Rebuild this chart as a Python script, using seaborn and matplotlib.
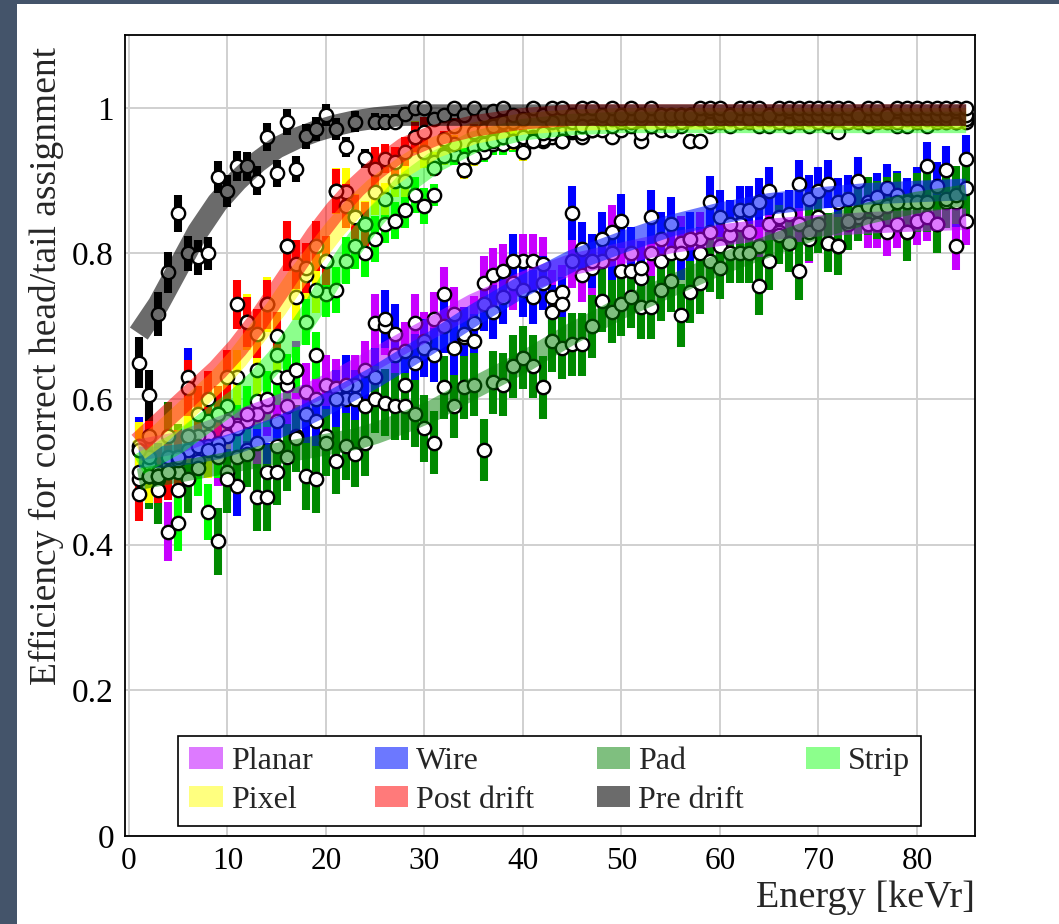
import numpy as np
import pandas as pd
import matplotlib
matplotlib.use("Agg")
import matplotlib.pyplot as plt
import seaborn as sns
from matplotlib.patches import Patch, Rectangle
from matplotlib.ticker import MultipleLocator, FuncFormatter

# ---------------- data ----------------
energy = list(range(1, 86))

planar = [0.53,0.51,0.49,0.418,0.50,0.53,0.54,0.55,0.52,0.55,
          0.565,0.53,0.54,0.59,0.57,0.59,0.64,0.61,0.60,0.62,
          0.615,0.60,0.62,0.64,0.705,0.70,0.66,0.666,0.705,0.68,
          0.71,0.745,0.717,0.685,0.705,0.76,0.77,0.776,0.76,0.79,
          0.79,0.785,0.74,0.747,0.79,0.77,0.78,0.79,0.83,0.776,
          0.776,0.766,0.80,0.79,0.80,0.815,0.82,0.82,0.83,0.81,
          0.825,0.84,0.83,0.81,0.84,0.83,0.815,0.84,0.82,0.85,
          0.815,0.81,0.84,0.85,0.84,0.84,0.83,0.84,0.83,0.845,
          0.85,0.84,0.87,0.81,0.845]
wire = [0.535,0.52,0.50,0.51,0.475,0.63,0.55,0.535,0.54,0.50,
        0.48,0.57,0.58,0.50,0.535,0.62,0.55,0.58,0.57,0.55,
        0.60,0.62,0.60,0.59,0.63,0.71,0.69,0.62,0.65,0.67,
        0.66,0.70,0.67,0.69,0.68,0.73,0.72,0.74,0.79,0.75,
        0.74,0.76,0.72,0.73,0.855,0.806,0.79,0.82,0.80,0.845,
        0.80,0.78,0.85,0.82,0.84,0.80,0.82,0.80,0.87,0.85,
        0.84,0.86,0.86,0.87,0.886,0.85,0.854,0.895,0.875,0.886,
        0.895,0.87,0.875,0.90,0.87,0.877,0.89,0.88,0.87,0.886,
        0.92,0.893,0.915,0.87,0.93]
pad = [0.49,0.495,0.475,0.55,0.52,0.49,0.515,0.57,0.405,0.49,
       0.52,0.525,0.465,0.465,0.50,0.52,0.546,0.494,0.49,0.54,
       0.515,0.535,0.525,0.54,0.60,0.595,0.59,0.59,0.58,0.56,
       0.54,0.616,0.59,0.616,0.62,0.53,0.623,0.62,0.645,0.657,
       0.645,0.616,0.68,0.67,0.675,0.675,0.70,0.735,0.72,0.73,
       0.74,0.726,0.726,0.75,0.762,0.715,0.747,0.76,0.79,0.78,
       0.80,0.80,0.80,0.755,0.79,0.826,0.815,0.776,0.83,0.84,
       0.815,0.81,0.845,0.857,0.865,0.86,0.865,0.87,0.83,0.87,
       0.87,0.84,0.875,0.88,0.89]
strip = [0.50,0.495,0.495,0.52,0.43,0.55,0.505,0.445,0.53,0.59,
         0.56,0.58,0.597,0.60,0.63,0.63,0.64,0.706,0.66,0.745,
         0.75,0.79,0.81,0.80,0.82,0.84,0.845,0.86,0.88,0.865,
         0.88,0.937,0.937,0.93,0.946,0.94,0.95,0.95,0.955,0.945,
         0.96,0.955,0.96,0.965,0.967,0.96,0.97,0.975,0.96,0.97,
         0.975,0.955,0.975,0.97,0.97,0.975,0.955,0.955,0.975,0.98,
         0.975,0.98,0.98,0.975,0.975,0.98,0.975,0.98,0.975,0.98,
         0.975,0.967,0.98,0.98,0.975,0.98,0.98,0.975,0.975,0.98,
         0.975,0.98,0.98,0.98,0.98]
pixel = [0.53,0.495,0.495,0.50,0.517,0.55,0.535,0.53,0.58,0.57,
         0.63,0.706,0.64,0.73,0.66,0.81,0.74,0.77,0.75,0.79,
         0.886,0.885,0.85,0.84,0.885,0.875,0.90,0.90,0.96,0.94,
         0.926,0.934,0.95,0.915,0.933,0.95,0.955,0.96,0.955,0.94,
         0.957,0.957,0.965,0.955,0.97,0.965,0.975,0.97,0.975,0.98,
         0.98,0.965,0.975,0.98,0.97,0.98,0.985,0.985,0.98,0.985,
         0.985,0.98,0.985,0.985,0.985,0.98,0.985,0.985,0.985,0.98,
         0.985,0.985,0.98,0.985,0.985,0.985,0.985,0.98,0.985,0.985,
         0.985,0.985,0.985,0.98,0.985]
post_drift = [0.47,0.55,0.495,0.50,0.52,0.615,0.58,0.60,0.58,0.63,
              0.73,0.706,0.69,0.73,0.686,0.81,0.785,0.78,0.81,0.79,
              0.886,0.865,0.85,0.84,0.916,0.93,0.926,0.94,0.96,0.967,
              0.917,0.957,0.975,0.915,0.967,0.97,0.975,0.98,0.98,0.96,
              0.955,0.965,0.98,0.955,0.98,0.975,0.97,0.985,0.985,0.985,
              0.99,0.985,0.99,0.99,0.985,0.99,0.99,0.99,0.995,0.99,
              0.99,0.99,0.985,0.99,0.99,0.99,0.995,0.99,0.99,0.99,
              0.99,0.985,0.99,0.99,0.99,0.99,0.99,0.995,0.99,0.99,
              0.99,0.99,0.99,0.995,0.99]
pre_drift = [0.65,0.605,0.717,0.774,0.855,0.80,0.795,0.80,0.905,0.886,
             0.92,0.92,0.90,0.96,0.91,0.98,0.916,0.961,0.971,0.99,
             0.971,0.946,0.981,0.931,0.981,0.981,0.981,0.992,1.0,1.0,
             0.985,0.99,1.0,0.99,1.0,0.99,0.995,1.0,0.99,0.985,
             1.0,0.99,1.0,1.0,0.99,1.0,1.0,0.99,1.0,0.99,
             1.0,0.99,1.0,0.99,0.99,0.99,0.99,1.0,1.0,1.0,
             0.99,1.0,1.0,1.0,0.99,1.0,1.0,1.0,1.0,1.0,
             1.0,1.0,1.0,0.99,1.0,1.0,0.99,1.0,1.0,1.0,
             1.0,1.0,1.0,1.0,1.0]

# half-heights of the error bars
err_planar = [0.04]*30 + [0.037]*30 + [0.033]*25
err_wire = [0.04]*30 + [0.037]*30 + [0.033]*25
err_pad = [0.046]*30 + [0.043]*30 + [0.04]*25
err_strip = ([0.038]*15 + [0.032]*10 + [0.025]*5 + [0.015]*10 + [0.009]*45)
err_pixel = ([0.038]*15 + [0.032]*10 + [0.022]*5 + [0.013]*10 + [0.008]*45)
err_post = ([0.038]*10 + [0.034]*10 + [0.03]*5 + [0.02]*5 + [0.011]*10 + [0.007]*45)
err_pre = ([0.035, 0.035, 0.03, 0.028, 0.025, 0.024, 0.024, 0.023, 0.022, 0.022,
            0.021, 0.02, 0.02, 0.019, 0.019, 0.018, 0.018, 0.017, 0.016, 0.015,
            0.015, 0.014, 0.014, 0.013, 0.012, 0.011, 0.01, 0.009, 0.008, 0.008]
           + [0.006]*55)

# fitted bands, read at a few energies
band_energy = [1, 3, 5, 7, 9, 11, 13, 15, 17, 19, 21, 23, 25, 28, 31, 35,
               40, 45, 50, 55, 60, 65, 70, 75, 80, 85]
band_planar = [0.53,0.535,0.54,0.55,0.56,0.57,0.58,0.59,0.60,0.612,0.625,0.64,0.655,
               0.678,0.70,0.73,0.76,0.785,0.80,0.815,0.825,0.833,0.838,0.842,0.845,0.847]
band_wire = [0.52,0.52,0.523,0.527,0.532,0.54,0.55,0.56,0.572,0.585,0.60,0.615,0.63,
             0.655,0.68,0.715,0.755,0.79,0.815,0.838,0.855,0.868,0.876,0.882,0.885,0.888]
band_pad = [0.49,0.495,0.50,0.505,0.51,0.515,0.52,0.525,0.53,0.535,0.54,0.545,0.553,
            0.568,0.585,0.615,0.65,0.69,0.725,0.755,0.785,0.81,0.835,0.855,0.87,0.88]
band_strip = [0.51,0.525,0.54,0.56,0.58,0.60,0.625,0.655,0.69,0.73,0.775,0.815,0.85,
              0.895,0.925,0.953,0.97,0.977,0.98,0.98,0.98,0.98,0.98,0.98,0.98,0.98]
band_pixel = [0.53,0.55,0.575,0.60,0.625,0.655,0.69,0.725,0.765,0.80,0.835,0.865,0.89,
              0.92,0.945,0.965,0.978,0.983,0.985,0.985,0.985,0.985,0.985,0.985,0.985,0.985]
band_post = [0.54,0.565,0.59,0.615,0.64,0.67,0.705,0.745,0.785,0.825,0.86,0.89,0.915,
             0.945,0.962,0.975,0.985,0.99,0.99,0.99,0.99,0.99,0.99,0.99,0.99,0.99]
band_pre = [0.69,0.73,0.78,0.83,0.87,0.90,0.925,0.945,0.958,0.968,0.976,0.982,0.986,
            0.99,0.99,0.99,0.99,0.99,0.99,0.99,0.99,0.99,0.99,0.99,0.99,0.99]

names = ["Planar", "Wire", "Pad", "Strip", "Pixel", "Post drift", "Pre drift"]
values = [planar, wire, pad, strip, pixel, post_drift, pre_drift]
errors = [err_planar, err_wire, err_pad, err_strip, err_pixel, err_post, err_pre]
bands = [band_planar, band_wire, band_pad, band_strip, band_pixel, band_post, band_pre]

bar_colors = ["#c800ff", "#0000ff", "#008a00", "#00ff00", "#ffff00", "#ff0000", "#000000"]
band_colors = ["#bf00ff", "#0a1eff", "#008000", "#00ff00", "#ffff00", "#ff0000", "#000000"]
band_alpha = [0.52, 0.6, 0.5, 0.45, 0.5, 0.52, 0.58]

# ---------------- figure ----------------
sns.set_style("white")
plt.rcParams["font.family"] = ["Liberation Serif", "DejaVu Serif"]
plt.rcParams["mathtext.fontset"] = "stix"

fig = plt.figure(figsize=(10.59, 9.24), dpi=100)
fig.patch.set_facecolor("white")
fig.patches.append(Rectangle((0, 0), 17/1059, 1, transform=fig.transFigure,
                             facecolor="#44546a", edgecolor="none", zorder=0))
fig.patches.append(Rectangle((0, 1 - 4/924), 1, 4/924, transform=fig.transFigure,
                             facecolor="#44546a", edgecolor="none", zorder=0))

ax = fig.add_axes([125/1059, 1 - 836/924, 850/1059, 801/924])

frames = []
for n, v, e in zip(names, values, errors):
    frames.append(pd.DataFrame({"energy": energy, "eff": v, "err": e, "series": n}))
df = pd.concat(frames, ignore_index=True)

# error bars
for n, c in zip(names, bar_colors):
    d = df[df["series"] == n]
    ax.vlines(d["energy"], d["eff"] - d["err"], d["eff"] + d["err"],
              colors=c, linewidth=5.8, zorder=2)

# markers
sns.scatterplot(data=df, x="energy", y="eff", ax=ax, marker="o", s=92,
                color="white", edgecolor="black", linewidth=1.7, zorder=3,
                legend=False)

# fitted bands
bdf = pd.concat([pd.DataFrame({"energy": band_energy, "eff": b, "series": n})
                 for n, b in zip(names, bands)], ignore_index=True)
for n, c, a in zip(names, band_colors, band_alpha):
    sns.lineplot(data=bdf[bdf["series"] == n], x="energy", y="eff", ax=ax,
                 color=c, alpha=a, linewidth=15.5, zorder=4, legend=False,
                 solid_capstyle="butt", solid_joinstyle="round")

# axes styling
ax.set_xlim(-0.4, 85.9)
ax.set_ylim(0, 1.1)
ax.xaxis.set_major_locator(MultipleLocator(10))
ax.xaxis.set_minor_locator(MultipleLocator(2))
ax.yaxis.set_major_locator(MultipleLocator(0.2))
ax.yaxis.set_minor_locator(MultipleLocator(0.05))
ax.yaxis.set_major_formatter(FuncFormatter(lambda v, p: "%g" % round(v, 2)))
ax.tick_params(which="both", direction="in", top=False, right=False,
               width=1.2, colors="black")
ax.tick_params(axis="x", labelsize=22.5)
ax.tick_params(axis="y", labelsize=24)
ax.tick_params(which="major", length=18, pad=8)
ax.tick_params(which="minor", length=8.5)
ax.grid(True, which="major", color="#d0d0d0", linewidth=1.4, zorder=0)
ax.set_axisbelow(True)
for s in ax.spines.values():
    s.set_color("black")
    s.set_linewidth(1.3)

ax.set_xlabel("Energy [keVr]", fontsize=27.5, loc="right", labelpad=3)
ax.set_ylabel("Efficiency for correct head/tail assignment", fontsize=27,
              loc="top", labelpad=6)
ax.yaxis.label.set_y(0.985)

# legend (row-wise order in 4 columns)
handles = {n: Patch(facecolor=c, alpha=a, edgecolor="none")
           for n, c, a in zip(names, band_colors, band_alpha)}
order = ["Planar", "Pixel", "Wire", "Post drift", "Pad", "Pre drift", "Strip"]
leg = ax.legend([handles[n] for n in order], order, ncol=4, loc="lower left",
                bbox_to_anchor=(53/850, 10/801, 743/850, 85/801), mode="expand",
                borderaxespad=0, fontsize=23, frameon=True, fancybox=False,
                framealpha=1, edgecolor="black", handlelength=1.05,
                handleheight=0.65, handletextpad=0.25, labelspacing=0.3,
                borderpad=0.35, columnspacing=1.0)
leg.get_frame().set_linewidth(1.2)
leg.set_zorder(10)

fig.savefig("out.png", dpi=100, facecolor=fig.get_facecolor())
